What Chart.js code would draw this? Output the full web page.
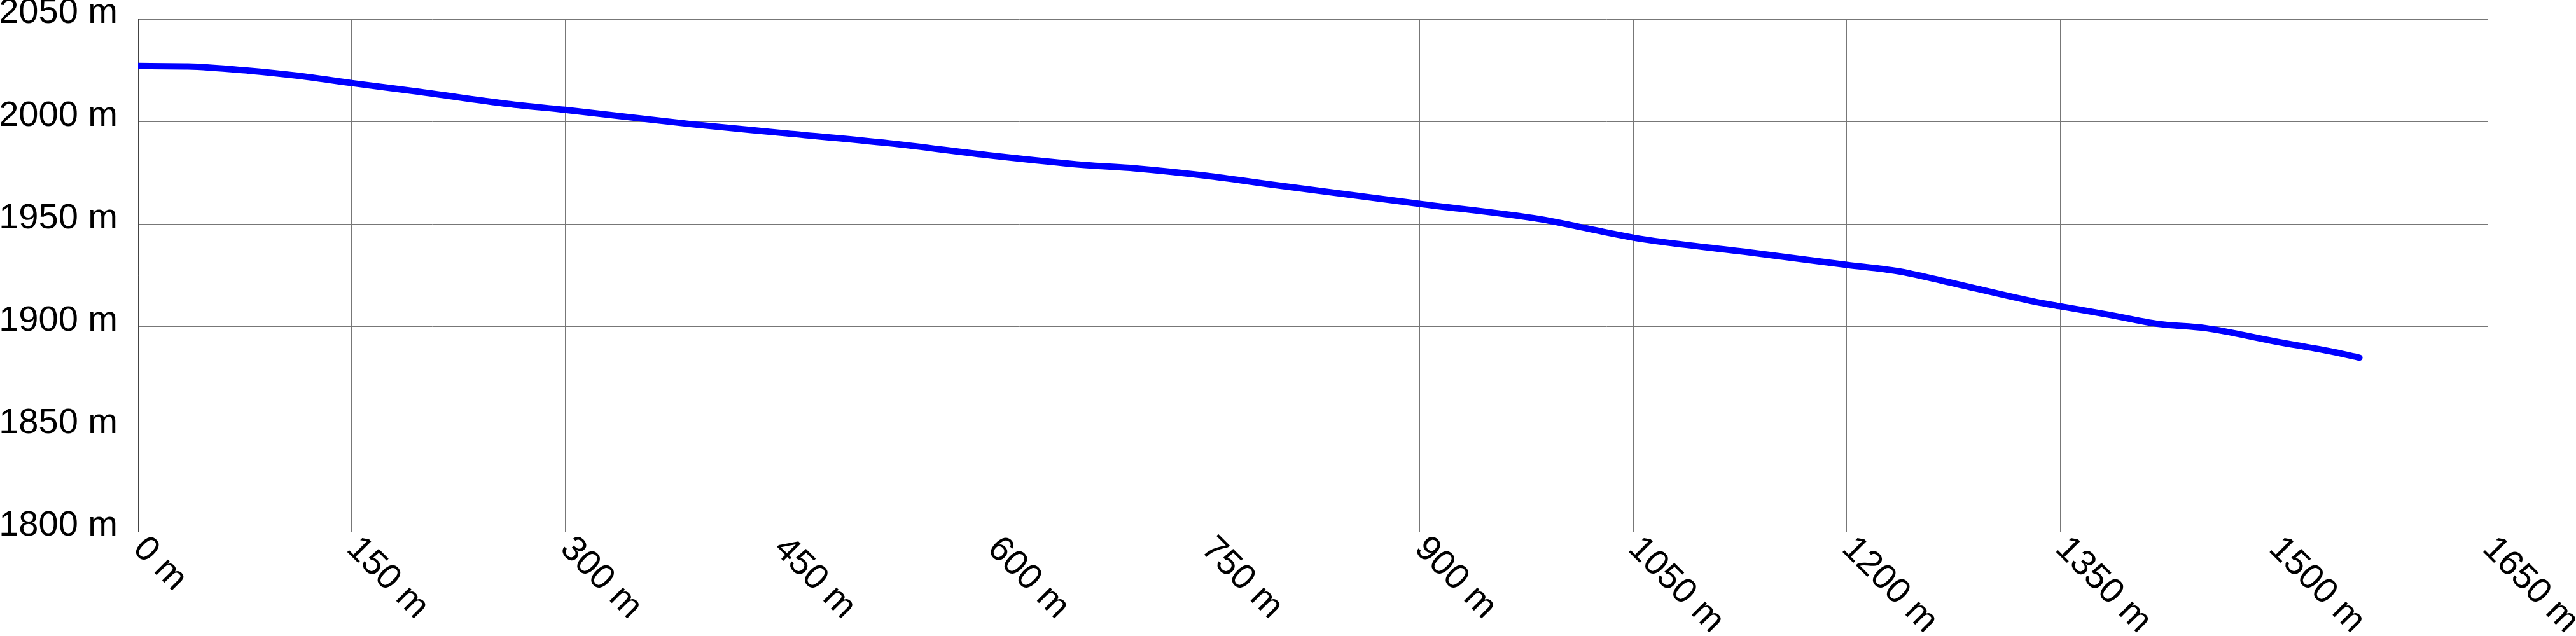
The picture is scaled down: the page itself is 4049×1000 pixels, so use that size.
<!DOCTYPE html>
<html lang="en">
<head>
<meta charset="utf-8">
<script src="https://cdn.jsdelivr.net/npm/chart.js"></script>
<style>
    html, body { margin: 0; padding: 0; background: #fff; }
</style>
</head>
<body>
<canvas id="profileChart" width="4049" height="1000"></canvas>

<script>
    // distance along the route (m) and elevation (m)
    const distances  = [0, 35, 78, 112, 150, 198, 260, 300, 389, 450, 528, 600, 665, 700, 750, 797,
                        900, 985, 1010, 1050, 1065, 1133, 1200, 1236, 1270, 1333, 1350, 1384, 1418,
                        1452, 1500, 1538, 1560];
    const elevations = [2027.1, 2026.9, 2024.8, 2022.4, 2018.8, 2014.5, 2008.6, 2005.7, 1998.7, 1994.6,
                        1989.4, 1983.4, 1978.8, 1977.2, 1973.6, 1969.2, 1959.9, 1952.4, 1949.0, 1943.4,
                        1941.8, 1936.1, 1930.1, 1927.0, 1921.9, 1912.0, 1909.9, 1905.8, 1901.4, 1899.3,
                        1892.9, 1888.2, 1884.9];

    const xTicks = [0, 150, 300, 450, 600, 750, 900, 1050, 1200, 1350, 1500, 1650];
    const yTicks = [1800, 1850, 1900, 1950, 2000, 2050];
    const unit = ' m';

    const labelFont = '56px "Liberation Sans", Arial, sans-serif';

    var points = [];
    distances.forEach(function (d, i) {
        points.push({x: d, y: elevations[i]});
    });

    // x labels are drawn slanted downwards to the right, starting at the tick
    const slantedXLabels = {
        id: 'slantedXLabels',
        afterDraw: function (chart) {
            const ctx = chart.ctx;
            const xScale = chart.scales.x;
            const bottom = chart.chartArea.bottom;
            ctx.save();
            ctx.font = labelFont;
            ctx.fillStyle = '#000';
            ctx.textAlign = 'left';
            ctx.textBaseline = 'middle';
            xScale.ticks.forEach(function (t) {
                const px = xScale.getPixelForValue(t.value);
                ctx.save();
                ctx.translate(px + 1, bottom + 18);
                ctx.rotate(Math.PI / 4);
                ctx.fillText(t.value + unit, 0, 0);
                ctx.restore();
            });
            ctx.restore();
        }
    };

    var config = {
        type: 'line',
        data: {
            datasets: [{
                data: points,
                borderColor: '#0000ff',
                borderWidth: 10,
                borderCapStyle: 'round',
                borderJoinStyle: 'round',
                pointRadius: 0,
                cubicInterpolationMode: 'monotone',
                fill: false
            }]
        },
        options: {
            responsive: false,
            animation: false,
            layout: {
                padding: {top: 30, right: 139, bottom: 0, left: 0}
            },
            plugins: {
                legend: {display: false},
                tooltip: {enabled: false}
            },
            scales: {
                x: {
                    type: 'linear',
                    min: xTicks[0],
                    max: xTicks[xTicks.length - 1],
                    afterBuildTicks: function (scale) {
                        scale.ticks = xTicks.map(function (v) { return {value: v}; });
                    },
                    afterFit: function (scale) { scale.height = 164; },
                    ticks: {display: false},
                    grid: {color: '#777', lineWidth: 1, drawTicks: false},
                    border: {color: '#444', width: 1}
                },
                y: {
                    type: 'linear',
                    min: yTicks[0],
                    max: yTicks[yTicks.length - 1],
                    afterBuildTicks: function (scale) {
                        scale.ticks = yTicks.map(function (v) { return {value: v}; });
                    },
                    afterFit: function (scale) { scale.width = 217; },
                    ticks: {
                        padding: 0,
                        labelOffset: -9,
                        color: '#000',
                        font: {family: '"Liberation Sans", Arial, sans-serif', size: 56, lineHeight: 1},
                        callback: function (v) { return v + unit; }
                    },
                    grid: {color: '#777', lineWidth: 1, drawTicks: true, tickLength: 32, tickColor: 'rgba(0,0,0,0)'},
                    border: {color: '#444', width: 1}
                }
            }
        },
        plugins: [slantedXLabels]
    };

    var profileChart = new Chart(document.getElementById('profileChart'), config);
</script>
</body>
</html>
